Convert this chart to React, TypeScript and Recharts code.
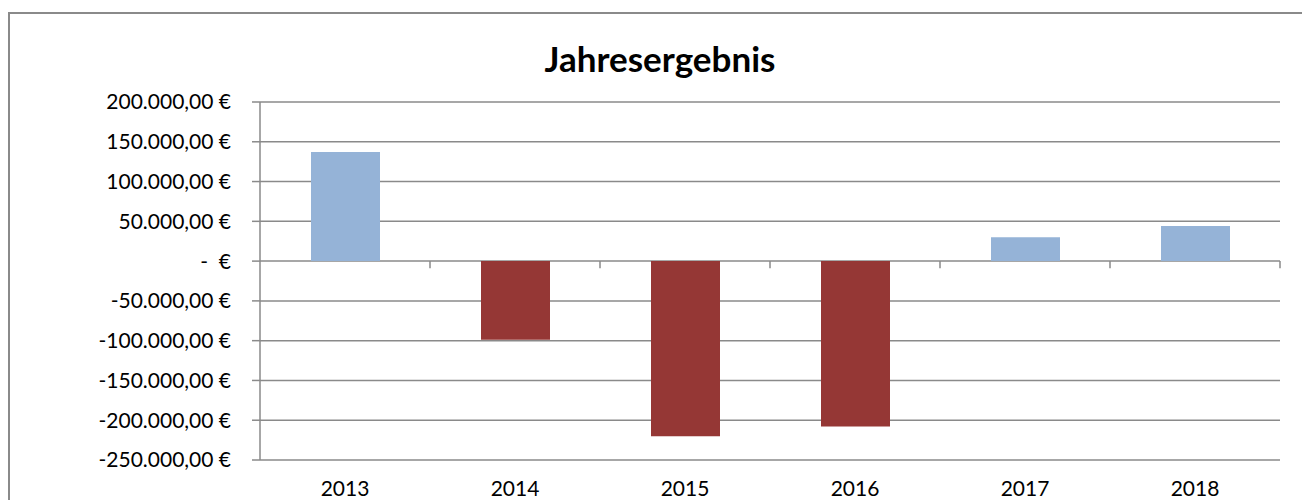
import React from 'react';
import { BarChart, Bar, XAxis, YAxis, CartesianGrid, ReferenceLine, Cell } from 'recharts';

const years = ['2013', '2014', '2015', '2016', '2017', '2018'];
const results = [137000, -99000, -220000, -208000, 30000, 44000];
const yTicks = [-250000, -200000, -150000, -100000, -50000, 0, 50000, 100000, 150000, 200000];
const TITLE = 'Jahresergebnis';

const data = years.map((y, i) => ({ year: y, value: results[i] }));

const POS = '#95B3D7';
const NEG = '#953735';
const GRID = '#8a8a8a';
const FONT = 'Lato, "Open Sans", sans-serif';
const TICK_DEPTH = 9000;

const fmt = (v: number) => {
  if (v === 0) return '-\u00a0\u00a0€';
  const s = Math.abs(v).toFixed(2).split('.');
  const int = s[0].replace(/\B(?=(\d{3})+(?!\d))/g, '.');
  return (v < 0 ? '-' : '') + int + ',' + s[1] + '\u00a0€';
};

export default function App() {
  return (
    <div style={{ position: 'absolute', left: 0, top: 0, width: 1302, height: 500, overflow: 'hidden', background: '#fff', fontFamily: FONT }}>
      <div style={{ position: 'absolute', left: 8, top: 12, width: 1400, height: 600, border: `2px solid ${GRID}`, boxSizing: 'border-box' }} />
      <div style={{ position: 'absolute', left: 8, top: 36, width: 1304, textAlign: 'center', fontWeight: 700, fontSize: 35, color: '#000', lineHeight: '44px' }}>{TITLE}</div>
      <div style={{ position: 'absolute', left: 0, top: 0 }}>
        <BarChart width={1302} height={500} data={data} margin={{ top: 102, right: 22, bottom: 0, left: 0 }} barSize={69}>
          <CartesianGrid vertical={false} stroke={GRID} strokeWidth={1.5} />
          <XAxis dataKey="year" axisLine={false} tickLine={false} tickMargin={15} height={40}
            tick={{ fontSize: 21, fill: '#000', fontFamily: FONT }} interval={0} />
          <YAxis width={260} domain={[-250000, 200000]} ticks={yTicks} tickFormatter={fmt} tickSize={8} tickMargin={21}
            axisLine={{ stroke: GRID, strokeWidth: 1.5 }} tickLine={{ stroke: GRID, strokeWidth: 1.5 }}
            tick={{ fontSize: 21, fill: '#000', fontFamily: FONT }} interval={0} allowDataOverflow />
          {years.map((y) => (
            <ReferenceLine key={y} segment={[{ x: y, y: 0 }, { x: y, y: -TICK_DEPTH }]} position="end" stroke={GRID} strokeWidth={1.5} ifOverflow="visible" />
          ))}
          <Bar dataKey="value" isAnimationActive={false}>
            {data.map((d, i) => (
              <Cell key={i} fill={d.value >= 0 ? POS : NEG} />
            ))}
          </Bar>
        </BarChart>
      </div>
    </div>
  );
}
